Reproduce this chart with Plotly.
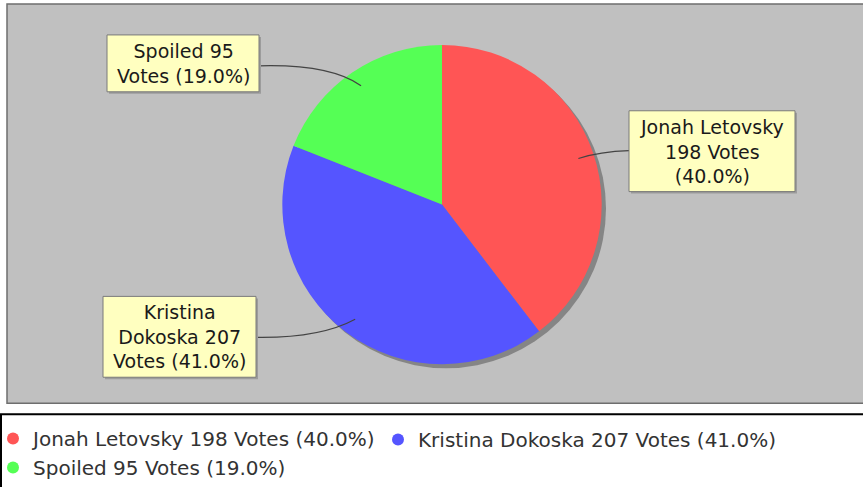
import math
import plotly.graph_objects as go

# data
candidates = ["Jonah Letovsky", "Kristina Dokoska", "Spoiled"]
votes = [198, 207, 95]
percent_shown = [40.0, 41.0, 19.0]   # as printed on the chart
colors = ["#FF5555", "#5555FF", "#55FF55"]
legend_groups = ["legend", "legend2", "legend"]   # wraps as the original legend does

# label text as printed by the chart (names wrap at the box width)
box_lines = [
    ["Jonah Letovsky", "198 Votes", "(40.0%)"],
    ["Kristina", "Dokoska 207", "Votes (41.0%)"],
    ["Spoiled 95", "Votes (19.0%)"],
]

W, H = 863, 487
FONT = "DejaVu Sans"


def px(x, y):
    """pixel -> paper coords (margins are zero)"""
    return x / W, 1 - y / H


def rect(x0, y0, x1, y1, **kw):
    a, b = px(x0, y0)
    c, d = px(x1, y1)
    return dict(type="rect", xref="paper", yref="paper", x0=a, y0=d, x1=c, y1=b, **kw)


total = sum(votes)
legend_names = [f"{c} {v} Votes ({p:.1f}%)" for c, v, p in zip(candidates, votes, percent_shown)]

# pie geometry (pixels)
cx, cy, r = 442, 205, 160

fig = go.Figure()

fig.add_trace(go.Pie(
    labels=legend_names,
    values=votes,
    marker=dict(colors=colors, line=dict(width=0)),
    sort=False,
    direction="clockwise",
    rotation=0,
    textinfo="none",
    hoverinfo="label+value",
    showlegend=False,
    domain=dict(x=[(cx - r) / W, (cx + r) / W], y=[1 - (cy + r) / H, 1 - (cy - r) / H]),
))

# legend entries with round symbols
for name, col, lg in zip(legend_names, colors, legend_groups):
    fig.add_trace(go.Scatter(
        x=[None], y=[None], mode="markers", name=name, legend=lg,
        marker=dict(color=col, size=12, symbol="circle"),
    ))

shapes = []
# grey plot panel
shapes.append(rect(7, 4, 880, 404, fillcolor="#C0C0C0",
                   line=dict(color="#6E6E6E", width=1.5), layer="below"))
# pie shadow
shapes.append(dict(type="circle", xref="paper", yref="paper",
                   x0=(cx - r + 4) / W, x1=(cx + r + 4) / W,
                   y0=1 - (cy + r + 4) / H, y1=1 - (cy - r + 4) / H,
                   fillcolor="#858585", line=dict(width=0), layer="below"))
# legend frame
shapes.append(rect(1, 415, 870, 495, fillcolor="white",
                   line=dict(color="black", width=2), layer="below"))

# label boxes (pixel bounds) and connector start/control points
boxes = [
    dict(box=(629, 111, 795, 192), edge=(629, 151), ctrl=(600, 152)),
    dict(box=(103, 297, 256, 378), edge=(256, 338), ctrl=(320, 339)),
    dict(box=(107, 35, 259, 92), edge=(259, 66), ctrl=(330, 64)),
]

annotations = []
start = 0.0
for i, v in enumerate(votes):
    mid = (start + v / 2) / total * 2 * math.pi
    start += v
    ax = cx + 0.9 * r * math.sin(mid)
    ay = cy - 0.9 * r * math.cos(mid)
    b = boxes[i]
    ex, ey = px(*b["edge"])
    qx, qy = px(*b["ctrl"])
    tx, ty = px(ax, ay)
    shapes.append(dict(type="path", xref="paper", yref="paper",
                       path=f"M {ex},{ey} Q {qx},{qy} {tx},{ty}",
                       line=dict(color="#444444", width=1.2)))
    x0, y0, x1, y1 = b["box"]
    shapes.append(rect(x0 + 2, y0 + 2, x1 + 2, y1 + 2, fillcolor="#9C9C9C", line=dict(width=0)))
    shapes.append(rect(x0, y0, x1, y1, fillcolor="#FFFFC0", line=dict(color="#7A7A7A", width=1)))
    bx, by = px((x0 + x1) / 2, (y0 + y1) / 2)
    annotations.append(dict(
        x=bx, y=by, xref="paper", yref="paper", showarrow=False,
        xanchor="center", yanchor="middle",
        text="<br>".join(box_lines[i]), font=dict(family=FONT, size=19, color="#1A1A1A"),
        align="center",
    ))

legend_style = dict(
    xanchor="left", yanchor="top", y=1 - 420 / H,
    font=dict(family=FONT, size=20, color="#333333"),
    bgcolor="rgba(0,0,0,0)", borderwidth=0,
    indentation=-7, tracegroupgap=0,
)

fig.update_layout(
    width=W, height=H,
    margin=dict(l=0, r=0, t=0, b=0),
    paper_bgcolor="white",
    plot_bgcolor="rgba(0,0,0,0)",
    xaxis=dict(visible=False),
    yaxis=dict(visible=False),
    shapes=shapes,
    annotations=annotations,
    showlegend=True,
    legend=dict(orientation="v", x=0, **legend_style),
    legend2=dict(orientation="v", x=(398 - 13) / W, **legend_style),
)

# drop the browser's default 8px body margin so the figure sits at the window origin
fig.write_html("out.html", config={"displayModeBar": False},
               post_script="document.body.style.margin='0';")
